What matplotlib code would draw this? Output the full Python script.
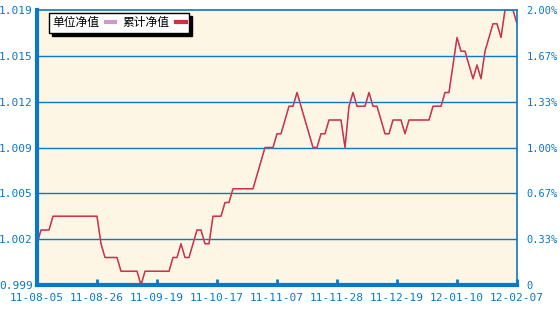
import matplotlib
matplotlib.use("Agg")
import matplotlib.pyplot as plt
from matplotlib.lines import Line2D

# ---- data ----
x_tick_labels = ["11-08-05", "11-08-26", "11-09-19", "11-10-17", "11-11-07",
                 "11-11-28", "11-12-19", "12-01-10", "12-02-07"]
y_left_labels = ["0.999", "1.002", "1.005", "1.009", "1.012", "1.015", "1.019"]
y_right_labels = ["0", "0.33%", "0.67%", "1.00%", "1.33%", "1.67%", "2.00%"]

cum_nav = [
    1.002, 1.003, 1.003, 1.003, 1.004, 1.004, 1.004, 1.004, 1.004, 1.004,
    1.004, 1.004, 1.004, 1.004, 1.004, 1.004, 1.002, 1.001, 1.001, 1.001,
    1.001, 1.000, 1.000, 1.000, 1.000, 1.000, 0.999, 1.000, 1.000, 1.000,
    1.000, 1.000, 1.000, 1.000, 1.001, 1.001, 1.002, 1.001, 1.001, 1.002,
    1.003, 1.003, 1.002, 1.002, 1.004, 1.004, 1.004, 1.005, 1.005, 1.006,
    1.006, 1.006, 1.006, 1.006, 1.006, 1.007, 1.008, 1.009, 1.009, 1.009,
    1.010, 1.010, 1.011, 1.012, 1.012, 1.013, 1.012, 1.011, 1.010, 1.009,
    1.009, 1.010, 1.010, 1.011, 1.011, 1.011, 1.011, 1.009, 1.012, 1.013,
    1.012, 1.012, 1.012, 1.013, 1.012, 1.012, 1.011, 1.010, 1.010, 1.011,
    1.011, 1.011, 1.010, 1.011, 1.011, 1.011, 1.011, 1.011, 1.011, 1.012,
    1.012, 1.012, 1.013, 1.013, 1.015, 1.017, 1.016, 1.016, 1.015, 1.014,
    1.015, 1.014, 1.016, 1.017, 1.018, 1.018, 1.017, 1.019, 1.019, 1.019,
    1.018,
]
unit_nav = list(cum_nav)

# ---- style ----
BLUE = "#0a78c8"
BG = "#fdf6e4"
RED = "#d03040"
PINK = "#cc99cc"

fig = plt.figure(figsize=(5.6, 3.13), dpi=100)
ax = fig.add_axes([37/560, 1-285/313, 480/560, 275/313])
ax.set_facecolor(BG)

idx = list(range(len(cum_nav)))
ax.plot(idx, unit_nav, color=PINK, lw=1.0)
ax.plot(idx, cum_nav, color=RED, lw=1.0)

n = len(cum_nav) - 1
ax.set_xlim(0, n)
ymin, ymax = 0.999, 1.019
ax.set_ylim(ymin, ymax)
yt = [ymin + k*(ymax-ymin)/6 for k in range(7)]
ax.set_yticks(yt)
ax.set_yticklabels(y_left_labels)
xt = [k*n/8 for k in range(9)]
ax.set_xticks(xt)
ax.set_xticklabels(x_tick_labels)

for y in yt[1:-1]:
    ax.axhline(y, color=BLUE, lw=1.0, zorder=1)

mono = "DejaVu Sans Mono"
ax.tick_params(axis="y", length=0, pad=3, labelcolor=BLUE, labelsize=8)
ax.tick_params(axis="x", direction="in", length=4, width=2, color=BLUE,
               pad=6, labelcolor=BLUE, labelsize=8)
for lab in ax.get_xticklabels() + ax.get_yticklabels():
    lab.set_family(mono)

for side, w in [("left", 3), ("bottom", 3), ("right", 1.2), ("top", 1.2)]:
    ax.spines[side].set_color(BLUE)
    ax.spines[side].set_linewidth(w)

ax2 = ax.twinx()
ax2.set_ylim(ymin, ymax)
ax2.set_yticks(yt)
ax2.set_yticklabels(y_right_labels)
ax2.tick_params(axis="y", length=0, pad=7, labelcolor=BLUE, labelsize=7.5)
for lab in ax2.get_yticklabels():
    lab.set_family(mono)
for s in ax2.spines.values():
    s.set_visible(False)

handles = [Line2D([], [], color=PINK, lw=3), Line2D([], [], color=RED, lw=3)]
leg = ax.legend(handles, ["单位净值", "累计净值"], loc="upper left",
                bbox_to_anchor=(0.025, 0.99), borderaxespad=0.0,
                ncol=2, markerfirst=False,
                handlelength=0.8, handletextpad=0.55, columnspacing=0.6,
                borderpad=0.3, frameon=True, fancybox=False,
                shadow={"color": "black", "alpha": 1.0},
                prop={"family": ["Noto Sans CJK SC", "DejaVu Sans"], "size": 8.5})
leg.get_frame().set_edgecolor("black")
leg.get_frame().set_linewidth(1.0)
leg.get_frame().set_facecolor("white")

fig.savefig("out.png", dpi=100)
